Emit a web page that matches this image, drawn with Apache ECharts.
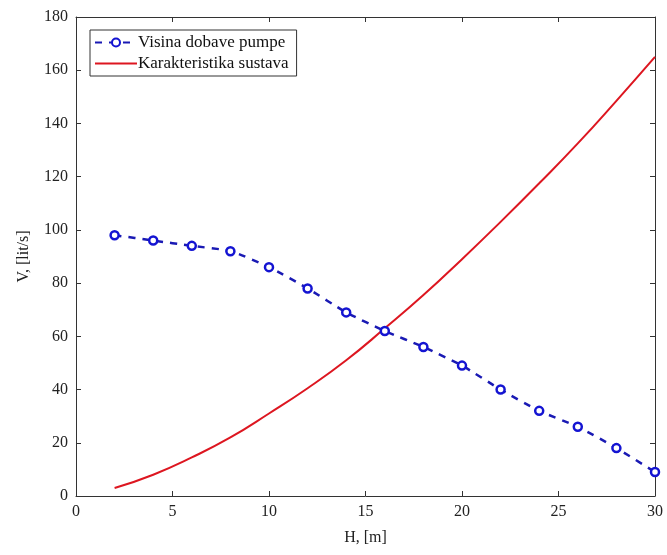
<!DOCTYPE html>
<html>
<head>
<meta charset="utf-8">
<script src="https://cdn.jsdelivr.net/npm/echarts@6/dist/echarts.min.js"></script>
<style>
  html, body { margin: 0; padding: 0; background: #fff; }
  #graph { width: 667px; height: 555px; }
</style>
</head>
<body>
<div id="graph"></div>
<script>
	// H, [m]
	var pumpH = [2, 4, 6, 8, 10, 12, 14, 16, 18, 20, 22, 24, 26, 28, 30];
	// visina dobave pumpe, V [lit/s]
	var pumpV = [98, 96, 94, 92, 86, 78, 69, 62, 56, 49, 40, 32, 26, 18, 9];
	// karakteristika sustava
	var sysH = [2, 4, 6, 8, 10, 12, 14, 16, 18, 20, 22, 24, 26, 28, 30];
	var sysV = [3, 8, 14.5, 22, 31, 40.5, 51, 63, 75.5, 89, 103, 117.5, 132.5, 148.5, 165];

	var serifFont = '"Liberation Serif", "DejaVu Serif", serif';

	function pairs(xs, ys) {
		return xs.map(function (x, i) { return [x, ys[i]]; });
	}

	var myChart = echarts.init(document.getElementById('graph'));

	var axisCommon = {
		axisLine: { show: true, onZero: false, lineStyle: { color: '#333', width: 1 } },
		axisTick: { show: true, inside: true, length: 5, lineStyle: { color: '#333' } },
		splitLine: { show: false },
		axisLabel: { fontFamily: serifFont, fontSize: 16, color: '#222' }
	};

	var option = {
		backgroundColor: '#fff',
		animation: false,
		grid: { left: 76, right: 12, top: 17, bottom: 59 },
		legend: {
			left: 90,
			top: 30,
			orient: 'vertical',
			itemWidth: 42,
			itemHeight: 10,
			itemGap: 4,
			padding: [4, 8, 4, 4],
			backgroundColor: '#fff',
			borderColor: '#333',
			borderWidth: 1,
			borderRadius: 0,
			textStyle: { fontFamily: serifFont, fontSize: 17, color: '#111', padding: [0, 0, 0, -4] },
			data: [
				'Visina dobave pumpe',
				{ name: 'Karakteristika sustava', itemStyle: { opacity: 0 } }
			]
		},
		xAxis: [
			Object.assign({}, axisCommon, {
				type: 'value', min: 0, max: 30, interval: 5,
				name: 'H, [m]', nameLocation: 'middle', nameGap: 34,
				nameTextStyle: { fontFamily: serifFont, fontSize: 16, color: '#222' }
			}),
			Object.assign({}, axisCommon, {
				type: 'value', min: 0, max: 30, interval: 5, position: 'top',
				axisLabel: { show: false }
			})
		],
		yAxis: [
			Object.assign({}, axisCommon, {
				type: 'value', min: 0, max: 180, interval: 20,
				name: 'V, [lit/s]', nameLocation: 'middle', nameGap: 44,
				nameTextStyle: { fontFamily: serifFont, fontSize: 16, color: '#222' }
			}),
			Object.assign({}, axisCommon, {
				type: 'value', min: 0, max: 180, interval: 20, position: 'right',
				axisLabel: { show: false }
			})
		],
		series: [
			{
				name: 'Visina dobave pumpe',
				type: 'line',
				data: pairs(pumpH, pumpV),
				smooth: 0.2,
				symbol: 'circle',
				symbolSize: 8,
				itemStyle: { color: '#fff', borderColor: '#1414d2', borderWidth: 2.5 },
				lineStyle: { color: '#1a1ab4', width: 2.5, type: [7, 7] },
				z: 3
			},
			{
				name: 'Karakteristika sustava',
				type: 'line',
				data: pairs(sysH, sysV),
				smooth: true,
				symbol: 'none',
				itemStyle: { color: '#dd1620' },
				lineStyle: { color: '#dd1620', width: 2 },
				z: 2
			}
		]
	};
	myChart.setOption(option);
</script>
</body>
</html>
